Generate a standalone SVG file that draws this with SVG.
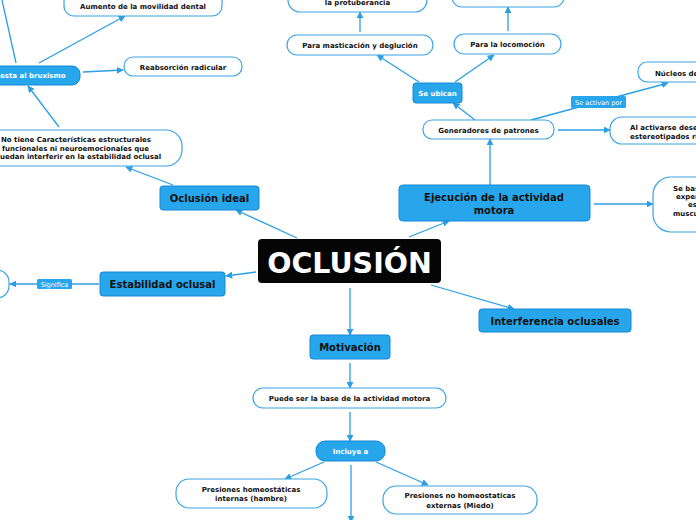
<svg xmlns="http://www.w3.org/2000/svg" width="696" height="520" viewBox="0 0 696 520">
<style>
text{font-family:"DejaVu Sans","Verdana",sans-serif;font-weight:bold;}
.c{stroke:#2a9fe3;stroke-width:1.3;fill:none;}
.o{fill:#fff;stroke:#3aa4e6;stroke-width:1.2;}
.b{fill:#27a6ec;stroke:#1687d6;stroke-width:1;}
.t{font-size:7px;fill:#111;text-anchor:middle;}
.l{font-size:7px;fill:#111;text-anchor:start;}
.tw{font-size:7px;fill:#fff;text-anchor:middle;}
.m{font-size:10px;fill:#111;text-anchor:middle;}
.s{font-size:6.5px;fill:#fff;text-anchor:middle;font-weight:normal;}
</style>
<defs>
<marker id="a" viewBox="0 0 10 10" refX="9" refY="5" markerWidth="7" markerHeight="7" markerUnits="userSpaceOnUse" orient="auto"><path d="M0,0L10,5L0,10z" fill="#2a9fe3"/></marker>
</defs>
<g id="connectors">
<line class="c" x1="297" y1="238" x2="236" y2="210" marker-end="url(#a)"/>
<line class="c" x1="256" y1="272" x2="226" y2="276" marker-end="url(#a)"/>
<line class="c" x1="409" y1="237" x2="449" y2="221" marker-end="url(#a)"/>
<line class="c" x1="431" y1="285" x2="514" y2="309" marker-end="url(#a)"/>
<line class="c" x1="350" y1="288" x2="350" y2="335" marker-end="url(#a)"/>
<line class="c" x1="350" y1="363" x2="350" y2="388" marker-end="url(#a)"/>
<line class="c" x1="350" y1="412" x2="350" y2="441" marker-end="url(#a)"/>
<line class="c" x1="324" y1="462" x2="285" y2="479" marker-end="url(#a)"/>
<line class="c" x1="376" y1="462" x2="428" y2="485" marker-end="url(#a)"/>
<line class="c" x1="351" y1="465" x2="351" y2="522" marker-end="url(#a)"/>
<line class="c" x1="99" y1="284" x2="10" y2="284" marker-end="url(#a)"/>
<line class="c" x1="173" y1="185" x2="126" y2="167" marker-end="url(#a)"/>
<line class="c" x1="59" y1="127" x2="28" y2="86" marker-end="url(#a)"/>
<line class="c" x1="83" y1="72" x2="123" y2="70" marker-end="url(#a)"/>
<line class="c" x1="39" y1="63" x2="125" y2="16" marker-end="url(#a)"/>
<line class="c" x1="16" y1="63" x2="2" y2="0"/>
<line class="c" x1="594" y1="204" x2="653" y2="204" marker-end="url(#a)"/>
<line class="c" x1="490" y1="185" x2="490" y2="139" marker-end="url(#a)"/>
<line class="c" x1="475" y1="120" x2="453" y2="103" marker-end="url(#a)"/>
<line class="c" x1="419" y1="82" x2="377" y2="55" marker-end="url(#a)"/>
<line class="c" x1="455" y1="82" x2="494" y2="55" marker-end="url(#a)"/>
<line class="c" x1="360" y1="32" x2="360" y2="12" marker-end="url(#a)"/>
<line class="c" x1="508" y1="31" x2="508" y2="7" marker-end="url(#a)"/>
<line class="c" x1="558" y1="130" x2="610" y2="130" marker-end="url(#a)"/>
<line class="c" x1="531" y1="120" x2="668" y2="83" marker-end="url(#a)"/>
<g id="lbl-significa"><rect x="37" y="279" width="35" height="10" rx="1.5" fill="#27a6ec"/><text class="s" x="54.5" y="286.5">Significa</text></g>
<g id="lbl-activan"><rect x="571" y="96" width="55" height="12" rx="1.5" fill="#27a6ec"/><text class="s" x="598.5" y="104.5">Se activan por</text></g>
</g>
<g id="n-oclusion"><rect x="258" y="239" width="183" height="44" rx="4" fill="#050505"/><text x="349.5" y="273" font-size="28.5" fill="#fff" text-anchor="middle">OCLUSIÓN</text></g>
<g id="n-ideal"><rect class="b" x="160" y="186" width="99" height="24" rx="3"/><text class="m" x="209.5" y="201.5">Oclusión ideal</text></g>
<g id="n-estab"><rect class="b" x="100" y="272" width="125" height="24" rx="3"/><text class="m" x="162.5" y="287.5">Estabilidad oclusal</text></g>
<g id="n-interf"><rect class="b" x="479" y="309" width="152" height="23" rx="3"/><text class="m" x="555" y="324.5">Interferencia oclusales</text></g>
<g id="n-motiv"><rect class="b" x="310" y="335" width="80" height="24" rx="3"/><text class="m" x="350" y="350.5">Motivación</text></g>
<g id="n-ejec"><rect class="b" x="399" y="185" width="191" height="36" rx="4"/><text class="m" x="494" y="200.5">Ejecución de la actividad</text><text class="m" x="494" y="214">motora</text></g>
<g id="n-sebasa"><rect class="o" x="653" y="177" width="80" height="55" rx="18"/><text class="l" x="673" y="191">Se bas</text><text class="l" x="676" y="199">exper</text><text class="l" x="688" y="207">es</text><text class="l" x="673" y="216">muscu</text></g>
<g id="n-generadores"><rect class="o" x="423" y="120" width="131" height="19" rx="9"/><text class="t" x="488.5" y="132.5">Generadores de patrones</text></g>
<g id="n-ubican"><rect class="b" x="413" y="83" width="49" height="20" rx="3"/><text class="tw" x="437.5" y="95.5">Se ubican</text></g>
<g id="n-mastic"><rect class="o" x="287" y="35" width="146" height="20" rx="10"/><text class="t" x="360" y="47.5">Para masticación y deglución</text></g>
<g id="n-locom"><rect class="o" x="454" y="34" width="107" height="20" rx="10"/><text class="t" x="507.5" y="46.5">Para la locomoción</text></g>
<g id="n-protub"><rect class="o" x="288" y="-20" width="139" height="32" rx="12"/><text class="t" x="357.5" y="5">la protuberancia</text></g>
<g id="n-top-right"><rect class="o" x="452" y="-20" width="112" height="27" rx="10"/></g>
<g id="n-nucleos"><rect class="o" x="638" y="62" width="80" height="20" rx="9"/><text class="l" x="655" y="75.5">Núcleos de</text></g>
<g id="n-activarse"><rect class="o" x="610" y="117" width="110" height="27" rx="12"/><text class="l" x="630" y="129.5">Al activarse dese</text><text class="l" x="630" y="139">estereotipados ri</text></g>
<g id="n-notiene"><rect class="o" x="-20" y="130" width="202" height="36" rx="16"/><text class="l" x="1" y="142">No tiene Características estructurales</text><text class="l" x="2" y="150.5">funcionales ni neuroemocionales que</text><text class="l" x="0" y="159">uedan interferir en la estabilidad oclusal</text></g>
<g id="n-bruxismo"><rect class="b" x="-20" y="66" width="100" height="19" rx="8"/><text class="tw" x="0" y="78" style="text-anchor:start">esta al bruxismo</text></g>
<g id="n-reabs"><rect class="o" x="124" y="57" width="118" height="19" rx="9"/><text class="t" x="183" y="69.5">Reabsorción radicular</text></g>
<g id="n-aumento"><rect class="o" x="64" y="-10" width="158" height="26" rx="10"/><text class="t" x="143" y="9">Aumento de la movilidad dental</text></g>
<g id="n-significa"><rect class="o" x="-30" y="270" width="39" height="28" rx="12"/></g>
<g id="n-puede"><rect class="o" x="253" y="388" width="193" height="20" rx="10"/><text class="t" x="349.5" y="400.5">Puede ser la base de la actividad motora</text></g>
<g id="n-incluye"><rect class="b" x="316" y="441" width="69" height="20" rx="9" stroke="none"/><text class="tw" x="350.5" y="453.5" font-size="7.5">Incluye a</text></g>
<g id="n-internas"><rect class="o" x="176" y="479" width="151" height="29" rx="13"/><text class="t" x="251" y="491.5">Presiones homeostáticas</text><text class="t" x="251" y="501">internas (hambre)</text></g>
<g id="n-externas"><rect class="o" x="383" y="486" width="154" height="28" rx="13"/><text class="t" x="460" y="497.5">Presiones no homeostaticas</text><text class="t" x="460" y="507.5">externas (Miedo)</text></g>
</svg>
